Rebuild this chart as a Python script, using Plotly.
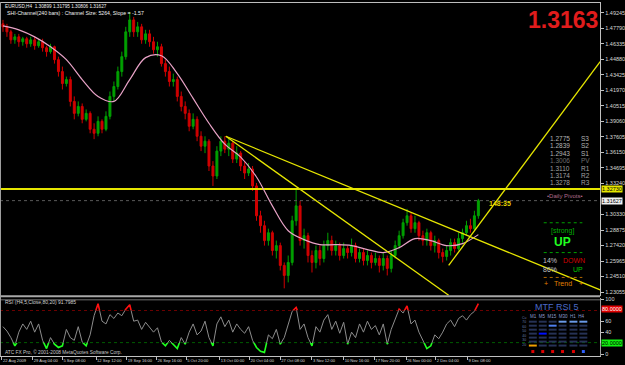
import plotly.graph_objects as go

W, H = 625, 365
PLOT_H = 356          # plot area height in px (bottom margin 9)
X_END = 606           # right edge of the chart area in px

# ---------------- data ----------------
opens = [1.4822, 1.4794, 1.4747, 1.4672, 1.4700, 1.4654, 1.4682, 1.4635, 1.4672, 1.4617,
         1.4654, 1.4598, 1.4561, 1.4607, 1.4486, 1.4374, 1.4262, 1.4299, 1.4094, 1.3982,
         1.4047, 1.3926, 1.3982, 1.3833, 1.3795, 1.3907, 1.3833, 1.3954, 1.4141, 1.4234,
         1.4374, 1.4514, 1.4747, 1.4859, 1.4747, 1.4794, 1.4672, 1.4728, 1.4654, 1.4579,
         1.4607, 1.4449, 1.4374, 1.4281, 1.4299, 1.4141, 1.4047, 1.3982, 1.3861, 1.3926,
         1.3767, 1.3674, 1.3721, 1.3488, 1.3394, 1.3628, 1.3721, 1.3646, 1.3702, 1.3553,
         1.3609, 1.3488, 1.3422, 1.3460, 1.3301, 1.3021, 1.2928, 1.2788, 1.2862, 1.2695,
         1.2741, 1.2555, 1.2461, 1.2583, 1.2974, 1.3114, 1.2788, 1.2834, 1.2648, 1.2583,
         1.2695, 1.2620, 1.2741, 1.2788, 1.2695, 1.2741, 1.2648, 1.2713, 1.2676, 1.2741,
         1.2620, 1.2676, 1.2601, 1.2648, 1.2583, 1.2620, 1.2555, 1.2620, 1.2527, 1.2648,
         1.2741, 1.2834, 1.2956, 1.3021, 1.2900, 1.2956, 1.2834, 1.2788, 1.2862, 1.2741,
         1.2788, 1.2676, 1.2639, 1.2695, 1.2769, 1.2713, 1.2807, 1.2862, 1.2928, 1.2900,
         1.3021]
highs = [1.4859, 1.4822, 1.4766, 1.4728, 1.4728, 1.4700, 1.4700, 1.4700, 1.4700, 1.4682,
         1.4682, 1.4617, 1.4635, 1.4617, 1.4514, 1.4421, 1.4327, 1.4327, 1.4141, 1.4094,
         1.4075, 1.4019, 1.4001, 1.3889, 1.3954, 1.3926, 1.4001, 1.4187, 1.4281, 1.4421,
         1.4561, 1.4794, 1.4934, 1.4887, 1.4840, 1.4822, 1.4766, 1.4766, 1.4700, 1.4654,
         1.4635, 1.4486, 1.4421, 1.4355, 1.4327, 1.4187, 1.4094, 1.4019, 1.3982, 1.3954,
         1.3814, 1.3767, 1.3740, 1.3534, 1.3674, 1.3767, 1.3767, 1.3740, 1.3721, 1.3674,
         1.3628, 1.3534, 1.3516, 1.3488, 1.3329, 1.3068, 1.2974, 1.2900, 1.2881, 1.2788,
         1.2769, 1.2583, 1.2648, 1.3021, 1.3273, 1.3161, 1.2900, 1.2862, 1.2695, 1.2741,
         1.2741, 1.2788, 1.2862, 1.2834, 1.2788, 1.2769, 1.2769, 1.2741, 1.2807, 1.2769,
         1.2713, 1.2713, 1.2695, 1.2676, 1.2676, 1.2648, 1.2676, 1.2648, 1.2695, 1.2788,
         1.2881, 1.2993, 1.3086, 1.3049, 1.3021, 1.2974, 1.2881, 1.2900, 1.2881, 1.2834,
         1.2807, 1.2713, 1.2741, 1.2807, 1.2807, 1.2862, 1.2900, 1.2974, 1.2993, 1.3068,
         1.3180]
lows = [1.4747, 1.4700, 1.4635, 1.4635, 1.4607, 1.4617, 1.4598, 1.4607, 1.4579, 1.4598,
        1.4561, 1.4514, 1.4542, 1.4449, 1.4327, 1.4206, 1.4234, 1.4047, 1.3926, 1.3954,
        1.3889, 1.3907, 1.3795, 1.3740, 1.3767, 1.3795, 1.3814, 1.3926, 1.4094, 1.4206,
        1.4327, 1.4486, 1.4700, 1.4700, 1.4700, 1.4635, 1.4635, 1.4607, 1.4542, 1.4514,
        1.4421, 1.4327, 1.4234, 1.4234, 1.4094, 1.4001, 1.3926, 1.3814, 1.3833, 1.3721,
        1.3628, 1.3609, 1.3441, 1.3301, 1.3366, 1.3581, 1.3609, 1.3581, 1.3516, 1.3516,
        1.3441, 1.3366, 1.3394, 1.3254, 1.2974, 1.2862, 1.2741, 1.2741, 1.2648, 1.2620,
        1.2508, 1.2340, 1.2396, 1.2555, 1.2928, 1.2741, 1.2713, 1.2583, 1.2489, 1.2527,
        1.2555, 1.2583, 1.2695, 1.2648, 1.2648, 1.2601, 1.2620, 1.2620, 1.2639, 1.2583,
        1.2583, 1.2555, 1.2555, 1.2527, 1.2555, 1.2489, 1.2508, 1.2461, 1.2489, 1.2620,
        1.2713, 1.2807, 1.2928, 1.2862, 1.2862, 1.2788, 1.2741, 1.2741, 1.2695, 1.2676,
        1.2620, 1.2583, 1.2601, 1.2648, 1.2676, 1.2695, 1.2769, 1.2834, 1.2862, 1.2881,
        1.2993]
closes = [1.4794, 1.4747, 1.4672, 1.4700, 1.4654, 1.4682, 1.4635, 1.4672, 1.4617, 1.4654,
          1.4598, 1.4561, 1.4607, 1.4486, 1.4374, 1.4262, 1.4299, 1.4094, 1.3982, 1.4047,
          1.3926, 1.3982, 1.3833, 1.3795, 1.3907, 1.3833, 1.3954, 1.4141, 1.4234, 1.4374,
          1.4514, 1.4747, 1.4859, 1.4747, 1.4794, 1.4672, 1.4728, 1.4654, 1.4579, 1.4607,
          1.4449, 1.4374, 1.4281, 1.4299, 1.4141, 1.4047, 1.3982, 1.3861, 1.3926, 1.3767,
          1.3674, 1.3721, 1.3488, 1.3394, 1.3628, 1.3721, 1.3646, 1.3702, 1.3553, 1.3609,
          1.3488, 1.3422, 1.3460, 1.3301, 1.3021, 1.2928, 1.2788, 1.2862, 1.2695, 1.2741,
          1.2555, 1.2461, 1.2583, 1.2974, 1.3114, 1.2788, 1.2834, 1.2648, 1.2583, 1.2695,
          1.2620, 1.2741, 1.2788, 1.2695, 1.2741, 1.2648, 1.2713, 1.2676, 1.2741, 1.2620,
          1.2676, 1.2601, 1.2648, 1.2583, 1.2620, 1.2555, 1.2620, 1.2527, 1.2648, 1.2741,
          1.2834, 1.2956, 1.3021, 1.2900, 1.2956, 1.2834, 1.2788, 1.2862, 1.2741, 1.2788,
          1.2676, 1.2639, 1.2695, 1.2769, 1.2713, 1.2807, 1.2862, 1.2928, 1.2900, 1.3021,
          1.3163]

ma_idx = [0, 4, 8, 12, 16, 20, 24, 28, 32, 36, 40, 44, 48, 52, 56, 60, 64, 68, 72, 76,
          80, 84, 88, 92, 96, 100, 104, 108, 112, 116, 120]
ma_vals = [1.4803, 1.4766, 1.4700, 1.4607, 1.4486, 1.4299, 1.4141, 1.4094, 1.4299, 1.4505,
           1.4523, 1.4355, 1.4122, 1.3889, 1.3693, 1.3572, 1.3385, 1.3114, 1.2881, 1.2797,
           1.2750, 1.2750, 1.2741, 1.2704, 1.2676, 1.2722, 1.2807, 1.2788, 1.2741, 1.2760,
           1.2844]

rsi = [50, 42, 30, 15, 40, 55, 45, 60, 40, 55,
       25, 10, 30, 18, 12, 15, 45, 30, 25, 50,
       22, 15, 35, 70, 92, 60, 55, 72, 65, 75,
       70, 82, 90, 60, 62, 45, 58, 50, 40, 48,
       22, 15, 25, 18, 10, 30, 18, 40, 55, 35,
       42, 60, 30, 15, 55, 68, 50, 62, 40, 55,
       45, 38, 50, 25, 12, 5, 3, 35, 28, 45,
       18, 30, 55, 78, 85, 45, 55, 30, 15, 50,
       40, 62, 72, 45, 60, 38, 58, 18, 40, 30,
       55, 40, 60, 45, 52, 35, 55, 18, 45, 65,
       82, 75, 88, 55, 62, 40, 25, 10, 15, 35,
       28, 40, 55, 62, 50, 65, 70, 62, 72, 78,
       92]
rsi_hi, rsi_lo = 80, 20

# trend lines drawn on the chart (bar index, price)
trend_x = [[56.25, 150.75], [56.25, 112.5], [112.5, 150.75]]
trend_y = [[1.3767, 1.2325], [1.3767, 1.2275], [1.2555, 1.4467]]
hline_level = 1.3273
bid_price = 1.3163

pivot_names = ["S3", "S2", "S1", "PV", "R1", "R2", "R3"]
pivot_vals = [1.2775, 1.2839, 1.2943, 1.3006, 1.3110, 1.3174, 1.3278]

price_ticks = [1.49245, 1.47790, 1.46335, 1.44880, 1.43425, 1.41970, 1.40515, 1.39060,
               1.37605, 1.36150, 1.34695, 1.33240, 1.30330, 1.28875, 1.27420, 1.25965,
               1.24510, 1.23055]
date_ticks = [-0.25, 7.5, 15, 23.5, 31.25, 38.75, 46.25, 54.75, 62.25, 70, 78, 86,
              93.75, 101.75, 109.25, 117.25]
date_labels = ["22 Aug 2009", "29 Aug 04:00", "5 Sep 08:00", "12 Sep 12:00",
               "19 Sep 16:00", "26 Sep 16:00", "5 Oct 20:00", "13 Oct 00:00",
               "20 Oct 04:00", "27 Oct 08:00", "3 Nov 12:00", "10 Nov 16:00",
               "17 Nov 20:00", "26 Nov 00:00", "2 Dec 04:00", "9 Dec 08:00"]

# ---------------- geometry helpers (px -> paper) ----------------
def px(x):
    return x / W

def py(y):
    return (PLOT_H - y) / PLOT_H

X_RANGE = [-0.75, 150.75]
MAIN_DOM = [py(296), 1.0]
RSI_DOM = [0.0, py(298)]
P_RANGE = [1.2265, 1.5027]
R_RANGE = [-3.6, 101.8]
R_SPAN = R_RANGE[1] - R_RANGE[0]
hi_dom = [RSI_DOM[1] * (rsi_hi - R_RANGE[0]) / R_SPAN, RSI_DOM[1]]
lo_dom = [0.0, RSI_DOM[1] * (rsi_lo - R_RANGE[0]) / R_SPAN]

n = len(closes)
idx = list(range(n))

fig = go.Figure()

# horizontal objects
fig.add_trace(go.Scatter(x=X_RANGE, y=[bid_price, bid_price], mode="lines",
                         line=dict(color="#5a5a5a", width=1, dash="dot"),
                         yaxis="y", hoverinfo="skip"))
fig.add_trace(go.Scatter(x=X_RANGE, y=[hline_level, hline_level], mode="lines",
                         line=dict(color="#e6e600", width=2),
                         yaxis="y", hoverinfo="skip"))

fig.add_trace(go.Candlestick(
    x=idx, open=opens, high=highs, low=lows, close=closes,
    increasing=dict(line=dict(color="#00a000", width=1), fillcolor="#00a000"),
    decreasing=dict(line=dict(color="#d00000", width=1), fillcolor="#d00000"),
    whiskerwidth=0, yaxis="y", hoverinfo="skip"))

fig.add_trace(go.Scatter(x=ma_idx, y=ma_vals, mode="lines",
                         line=dict(color="#e8a2c6", width=1.2, shape="spline"),
                         yaxis="y", hoverinfo="skip"))

for tx, ty in zip(trend_x, trend_y):
    fig.add_trace(go.Scatter(x=tx, y=ty, mode="lines",
                             line=dict(color="#e6e600", width=1.3),
                             yaxis="y", hoverinfo="skip"))

# RSI window
fig.add_trace(go.Scatter(x=X_RANGE, y=[rsi_hi, rsi_hi], mode="lines",
                         line=dict(color="#c00000", width=1, dash="dot"),
                         yaxis="y2", hoverinfo="skip"))
fig.add_trace(go.Scatter(x=X_RANGE, y=[rsi_lo, rsi_lo], mode="lines",
                         line=dict(color="#00c000", width=1, dash="dot"),
                         yaxis="y2", hoverinfo="skip"))
fig.add_trace(go.Scatter(x=idx, y=rsi, mode="lines",
                         line=dict(color="#8c8c8c", width=1),
                         yaxis="y2", hoverinfo="skip"))
fig.add_trace(go.Scatter(x=idx, y=rsi, mode="lines",
                         line=dict(color="#ff1010", width=1.6),
                         yaxis="y3", hoverinfo="skip"))
fig.add_trace(go.Scatter(x=idx, y=rsi, mode="lines",
                         line=dict(color="#20ff20", width=1.6),
                         yaxis="y4", hoverinfo="skip"))

# ---------------- annotations ----------------
ann = []

def text(x, y, s, size=6, color="#e0e0e0", xanchor="left", bold=False,
         bg=None, family="Liberation Sans", yanchor="middle"):
    a = dict(x=px(x), y=py(y), xref="paper", yref="paper",
             text=("<b>%s</b>" % s) if bold else s,
             showarrow=False, xanchor=xanchor, yanchor=yanchor,
             font=dict(size=size, color=color, family=family))
    if bg:
        a.update(bgcolor=bg, borderpad=0)
    ann.append(a)

text(3, 5, "EURUSD,H4  1.30899 1.31795 1.30806 1.31627", size=4.7, color="#f0f0f0")
text(5, 11.5, "SHI-Channel(240 bars) : Channel Size: 5264, Slope = -1.57", size=5.2, color="#f0f0f0")
text(568, 18, "1.3163", size=23, color="#e01c1c", xanchor="center", bold=True)

row_y = [137, 144.5, 152, 159.5, 167, 174.5, 182]
pcol = ["#b4b4b4", "#b4b4b4", "#b4b4b4", "#6e6e6e", "#a0a0a0", "#a0a0a0", "#a0a0a0"]
for nm, v, yy, c in zip(pivot_names, pivot_vals, row_y, pcol):
    text(553, yy, "%.4f" % v, size=6.5, color=c)
    text(585, yy, nm, size=6.5, color=c)
text(570, 195, "•Daily Pivots•", size=6, color="#b06c8c", xanchor="center")
text(505, 203, "148:35", size=7, color="#e6d200", xanchor="center", bold=True)

text(568, 230, "[strong]", size=7, color="#00b000", xanchor="center")
text(568, 241, "UP", size=12, color="#20ff20", xanchor="center", bold=True)
text(555, 260, "14%", size=7, color="#c0c0c0", xanchor="center")
text(580, 260, "DOWN", size=7, color="#d00000", xanchor="center")
text(555, 269, "86%", size=7, color="#c0c0c0", xanchor="center")
text(584, 269, "UP", size=7, color="#00c800", xanchor="center")
text(551, 283, "+", size=7, color="#e08000", xanchor="center")
text(568, 283, "Trend", size=7, color="#e08000", xanchor="center")
text(587, 283, "+", size=7, color="#e08000", xanchor="center")

text(3, 302, "RSI (H4,5,Close,80,20) 91.7985", size=5, color="#d0d0d0")
text(3, 352, "ATC FX Pro, © 2001-2008 MetaQuotes Software Corp.", size=4.8, color="#c8c8c8")
text(562, 307, "MTF RSI 5", size=9, color="#4a6ac8", xanchor="center")

# MTF table headers and row labels
col_x = [538, 548, 558, 568, 579, 589]
text(533, 316, "M1  M5  M15  M30  H1  H4", size=4.5, color="#8c9ccc")
text(529, 313.5, "Cu<br>70<br>60<br>50<br>40<br>30<br>20", size=3.4, color="#6c7cac",
     xanchor="center", yanchor="top")

# price-axis boxes
text(607, 188, "1.32730", size=5.5, color="#000000", bg="#e6e600")
text(607, 200, "1.31627", size=5.5, color="#000000", bg="#f0f0f0")
text(607, 309, "80.0000", size=5.5, color="#ffffff", bg="#e00000")
text(607, 343, "20.0000", size=5.5, color="#000000", bg="#10f010")

# ---------------- shapes ----------------
shapes = []

def hline(x0, x1, y, color, width=1, dash="solid"):
    shapes.append(dict(type="line", xref="paper", yref="paper", x0=px(x0), x1=px(x1),
                       y0=py(y), y1=py(y), line=dict(color=color, width=width, dash=dash)))

def rect(x0, y0, x1, y1, color):
    shapes.append(dict(type="rect", xref="paper", yref="paper", x0=px(x0), x1=px(x1),
                       y0=py(y1), y1=py(y0), line=dict(width=0), fillcolor=color))

hline(0, X_END, 0.5, "#c0c0c0")
hline(0, X_END, 296, "#a8a8a8", 2)
hline(0, X_END, 299.5, "#707070", 1)
shapes.append(dict(type="line", xref="paper", yref="paper", x0=px(0.5), x1=px(0.5),
                   y0=0, y1=1, line=dict(color="#a0a0a0", width=1)))
hline(549, 588, 222, "#00a000", 1, "dot")
hline(549, 588, 252, "#00a000", 1, "dot")
hline(549, 588, 277, "#b06800", 1, "dot")

# MTF cells
row_ys = [321.5, 325.5, 329.5, 333.5, 337.5, 341.5, 345.5]
hl = {(0, 3): "#6a9ae8", (0, 4): "#6a9ae8", (0, 5): "#6a9ae8", (1, 2): "#4f7ff0",
      (3, 1): "#0010ff", (6, 0): "#f0a000"}
for r, ry in enumerate(row_ys):
    for c, cx in enumerate(col_x):
        rect(cx - 4, ry - 1, cx + 4, ry + 1, hl.get((r, c), "#263256"))
for c, cx in enumerate(col_x):
    rect(cx - 1.5, 350, cx + 1.5, 353, "#3060ff" if c == 5 else "#e00000")

# ---------------- layout ----------------
axis_font = dict(size=5.5, color="#d8d8d8", family="Liberation Sans")
date_font = dict(size=4.1, color="#d8d8d8", family="Liberation Sans")
fig.update_layout(
    width=W, height=H, margin=dict(l=0, r=0, t=0, b=9),
    paper_bgcolor="#000000", plot_bgcolor="#000000", showlegend=False,
    xaxis=dict(domain=[0, px(X_END)], range=X_RANGE, anchor="y2",
               tickvals=date_ticks, ticktext=date_labels, ticklabelposition="outside right",
               tickangle=0, tickfont=date_font, ticks="outside", ticklen=3,
               tickcolor="#c0c0c0", showgrid=False, zeroline=False, showline=True,
               linecolor="#c0c0c0", linewidth=1, rangeslider=dict(visible=False),
               fixedrange=True),
    yaxis=dict(domain=MAIN_DOM, range=P_RANGE, side="right", anchor="x",
               tickvals=price_ticks, ticktext=["%.5f" % t for t in price_ticks],
               tickfont=axis_font, ticks="outside", ticklen=3, tickcolor="#c0c0c0",
               showgrid=False, zeroline=False, showline=True, linecolor="#c0c0c0"),
    yaxis2=dict(domain=RSI_DOM, range=R_RANGE, side="right", anchor="x",
                tickvals=[100, 60, 40, 0], ticktext=["100", "60", "40", "0"],
                tickfont=axis_font, ticks="outside", ticklen=3, tickcolor="#c0c0c0",
                showgrid=False, zeroline=False, showline=True, linecolor="#c0c0c0"),
    yaxis3=dict(domain=hi_dom, range=[rsi_hi, R_RANGE[1]], anchor="x", visible=False),
    yaxis4=dict(domain=lo_dom, range=[R_RANGE[0], rsi_lo], anchor="x", visible=False),
    annotations=ann, shapes=shapes,
)

fig.write_html("out.html")
